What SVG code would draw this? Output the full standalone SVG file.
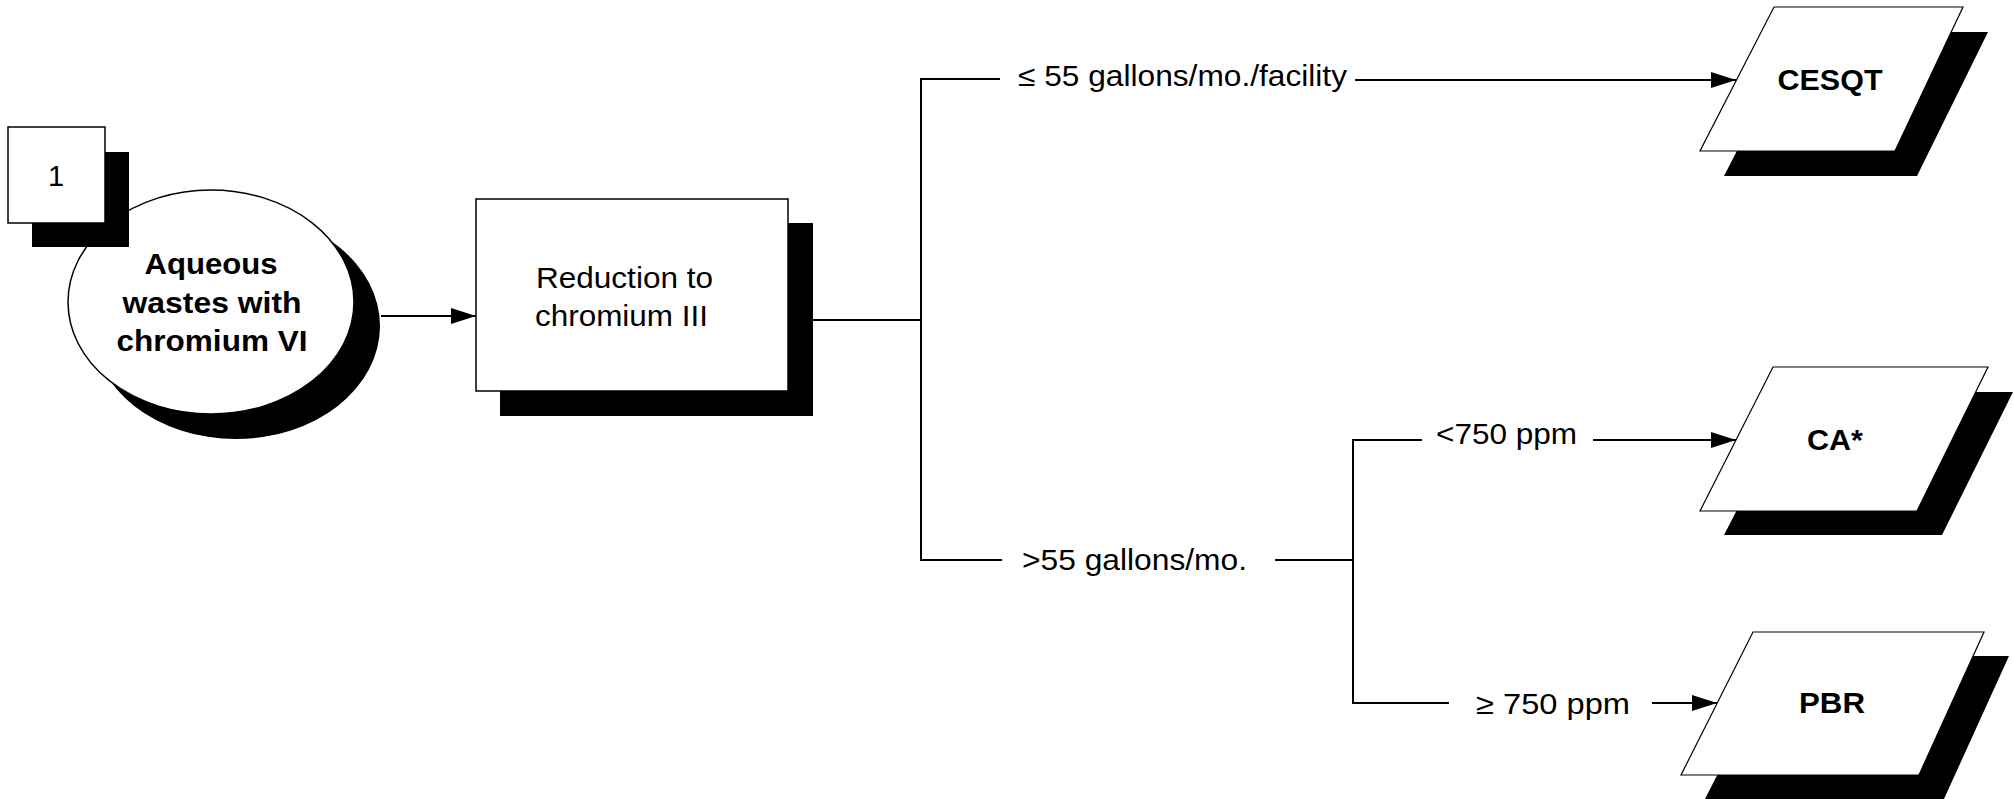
<svg xmlns="http://www.w3.org/2000/svg" width="2014" height="799" viewBox="0 0 2014 799">
<style>
  .shadow { fill: #000; stroke: none; }
  .box { fill: #fff; stroke: #000; stroke-width: 1.5; }
  .para { fill: #fff; stroke: #000; stroke-width: 1.2; }
  .t { font-family: "Liberation Sans", Arial, sans-serif; font-size: 29px; fill: #000; }
  .b { font-weight: bold; text-anchor: middle; }
  .line { fill: none; stroke: #000; stroke-width: 2; }
</style>
<defs>
  <marker id="arrow" markerUnits="userSpaceOnUse" markerWidth="26" markerHeight="16" refX="25" refY="8" orient="auto">
    <path d="M0,0 L25,8 L0,16 z" fill="#000"/>
  </marker>
</defs>
<rect width="2014" height="799" fill="#fff"/>

<g id="connectors">
  <line class="line" x1="381" y1="316" x2="476" y2="316" marker-end="url(#arrow)"/>
  <line class="line" x1="813" y1="320" x2="921" y2="320"/>
  <polyline class="line" points="1000,79 921,79 921,560 1002,560"/>
  <line class="line" x1="1355" y1="80" x2="1736" y2="80" marker-end="url(#arrow)"/>
  <line class="line" x1="1275" y1="560" x2="1353" y2="560"/>
  <polyline class="line" points="1422,440 1353,440 1353,703 1449,703"/>
  <line class="line" x1="1593" y1="440" x2="1736" y2="440" marker-end="url(#arrow)"/>
  <line class="line" x1="1652" y1="703" x2="1717" y2="703" marker-end="url(#arrow)"/>
  <text class="t" x="1018" y="86" textLength="329" lengthAdjust="spacingAndGlyphs">≤ 55 gallons/mo./facility</text>
  <text class="t" x="1022" y="570" textLength="225" lengthAdjust="spacingAndGlyphs">&gt;55 gallons/mo.</text>
  <text class="t" x="1436" y="444" textLength="141" lengthAdjust="spacingAndGlyphs">&lt;750 ppm</text>
  <text class="t" x="1476" y="714" textLength="154" lengthAdjust="spacingAndGlyphs">≥ 750 ppm</text>
</g>

<g id="node-aqueous">
  <ellipse class="shadow" cx="236" cy="326" rx="144" ry="113"/>
  <ellipse class="box" cx="211" cy="302" rx="143" ry="112"/>
  <text class="t b" x="211" y="274" textLength="133" lengthAdjust="spacingAndGlyphs">Aqueous</text>
  <text class="t b" x="212" y="313" textLength="179" lengthAdjust="spacingAndGlyphs">wastes with</text>
  <text class="t b" x="212" y="351" textLength="191" lengthAdjust="spacingAndGlyphs">chromium VI</text>
</g>

<g id="node-1">
  <rect class="shadow" x="32" y="152" width="97" height="95"/>
  <rect class="box" x="8" y="127" width="97" height="96"/>
  <text class="t" x="56" y="186" text-anchor="middle">1</text>
</g>

<g id="node-reduction">
  <rect class="shadow" x="500" y="223" width="313" height="193"/>
  <rect class="box" x="476" y="199" width="312" height="192"/>
  <text class="t" x="536" y="288" textLength="177" lengthAdjust="spacingAndGlyphs">Reduction to</text>
  <text class="t" x="535" y="326" textLength="173" lengthAdjust="spacingAndGlyphs">chromium III</text>
</g>

<g id="node-cesqt">
  <polygon class="shadow" points="1798,32 1988,32 1917,176 1724,176"/>
  <polygon class="para" points="1774,7 1963,7 1895,151 1700,151"/>
  <text class="t b" x="1830" y="90" textLength="105" lengthAdjust="spacingAndGlyphs">CESQT</text>
</g>

<g id="node-ca">
  <polygon class="shadow" points="1798,392 2013,392 1942,535 1724,535"/>
  <polygon class="para" points="1773,367 1988,367 1917,511 1700,511"/>
  <text class="t b" x="1835" y="450" textLength="56" lengthAdjust="spacingAndGlyphs">CA*</text>
</g>

<g id="node-pbr">
  <polygon class="shadow" points="1778,656 2009,656 1944,799 1705,799"/>
  <polygon class="para" points="1753,632 1984,632 1919,775 1681,775"/>
  <text class="t b" x="1832" y="713" textLength="66" lengthAdjust="spacingAndGlyphs">PBR</text>
</g>
</svg>
